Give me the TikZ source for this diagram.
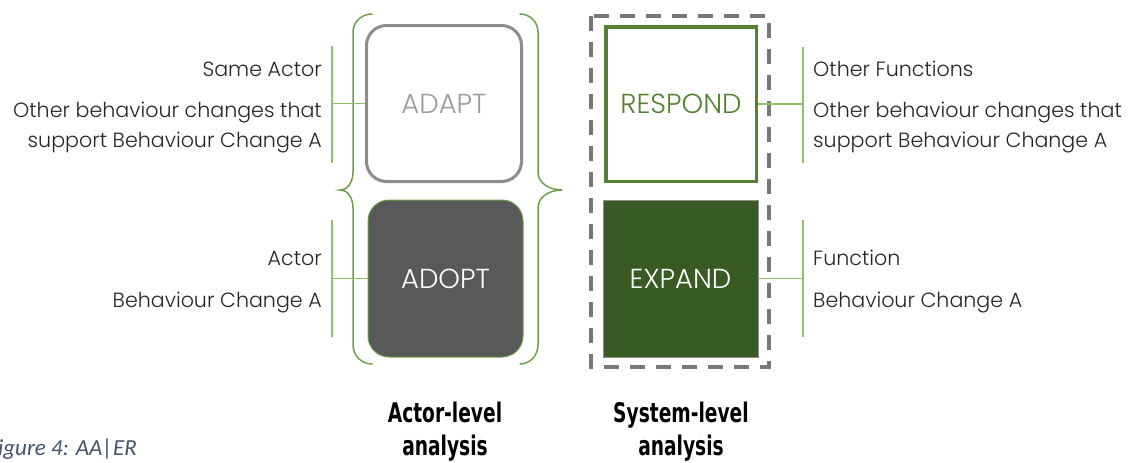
\documentclass[tikz,border=0pt]{standalone}
\usepackage{fontspec}
\IfFontExistsTF{Poppins Light}{\setmainfont{Poppins Light}}{\setmainfont{Poppins}}
\newfontfamily\headfont{DejaVu Sans}[FakeStretch=0.69]
\newfontfamily\capfont{Carlito}
\definecolor{txt}{HTML}{262626}
\definecolor{linkgreen}{HTML}{8DC26A}
\definecolor{bracegreen}{HTML}{6E9F48}
\definecolor{respgreen}{HTML}{548235}
\definecolor{expfill}{HTML}{3A5A24}
\definecolor{adoptfill}{HTML}{595959}
\definecolor{adaptgray}{HTML}{8C8C8C}
\definecolor{adapttext}{HTML}{9C9C9C}
\definecolor{dashgray}{HTML}{7A7777}
\definecolor{capblue}{HTML}{44546A}
\tikzset{
  stage/.style={rectangle, inner sep=0pt, font=\fontsize{27.5}{30}\selectfont},
  lbl/.style={inner sep=0pt, text=txt, font=\fontsize{20.6}{24}\selectfont},
  link/.style={draw=linkgreen, line width=1.4pt},
  bracket/.style={draw=bracegreen, line width=1.5pt, line cap=round},
  head/.style={inner sep=0pt, font=\headfont\bfseries\fontsize{27}{30}\selectfont},
}
\begin{document}
\begin{tikzpicture}[x=1pt, y=-1pt]
\useasboundingbox (0,0) rectangle (1130,463);

% system-level frame
\draw[draw=dashgray, line width=4pt, dash pattern=on 15pt off 11pt]
  (591,16) rectangle (769,367);

% the four stages
\node[stage, draw=adaptgray, line width=3pt, rounded corners=20pt,
      minimum width=155pt, minimum height=156pt, text=adapttext]
  (adapt) at (444,103.5) {ADAPT};
\node[stage, draw=bracegreen, line width=1pt, fill=adoptfill, rounded corners=21pt,
      minimum width=155pt, minimum height=157pt, text=white]
  (adopt) at (445.5,278.5) {ADOPT};
\node[stage, draw=respgreen, line width=3.5pt,
      minimum width=150.5pt, minimum height=154.5pt, text=respgreen]
  (respond) at (681,104) {RESPOND};
\node[stage, draw=adaptgray, line width=1pt, fill=expfill,
      minimum width=155pt, minimum height=157pt, text=white]
  (expand) at (680.5,278.5) {EXPAND};

% actor-level braces
\draw[bracket] (372,14) to[out=180, in=90] (353,32) -- (353,172)
  to[out=-90, in=0] (340,190) to[out=0, in=90] (353,208) -- (353,345)
  to[out=-90, in=180] (372,364);
\draw[bracket] (520,14) to[out=0, in=90] (538,32) -- (538,172)
  to[out=-90, in=180] (562,190) to[out=180, in=90] (538,208) -- (538,345)
  to[out=-90, in=0] (520,364);

% side brackets and their links
\coordinate (la1) at (332,46);  \coordinate (la2) at (332,163);  \coordinate (ja) at (332,103.5);
\coordinate (lo1) at (332,220); \coordinate (lo2) at (332,337);  \coordinate (jo) at (332,278.5);
\coordinate (rr1) at (803,47);  \coordinate (rr2) at (803,163);  \coordinate (jr) at (803,104);
\coordinate (re1) at (803,220); \coordinate (re2) at (803,337);  \coordinate (je) at (803,278.5);
\draw[link] (la1) -- (la2);  \draw[link] (adapt) -- (ja);
\draw[link] (lo1) -- (lo2);  \draw[link] (adopt) -- (jo);
\draw[link] (rr1) -- (rr2);  \draw[link] (respond) -- (jr);
\draw[link] (re1) -- (re2);  \draw[link] (expand) -- (je);

% left labels
\node[lbl, anchor=base east] (sameactor) at (322,76) {Same Actor};
\node[lbl, anchor=base east] (otherl1) at (322,117) {Other behaviour changes that};
\node[lbl, anchor=base east] (otherl2) at (322,147) {support Behaviour Change A};
\node[lbl, anchor=base east] (actor) at (322,265) {Actor};
\node[lbl, anchor=base east] (bcal) at (322,307) {Behaviour Change A};

% right labels
\node[lbl, anchor=base west] (otherfn) at (813,76) {Other Functions};
\node[lbl, anchor=base west] (otherr1) at (813,117) {Other behaviour changes that};
\node[lbl, anchor=base west] (otherr2) at (813,147) {support Behaviour Change A};
\node[lbl, anchor=base west] (function) at (813,265) {Function};
\node[lbl, anchor=base west] (bcar) at (813,307) {Behaviour Change A};

% column headings
\node[head, anchor=base] (actorlvl) at (445,422) {Actor-level};
\node[head, anchor=base] (actoran) at (445,455) {analysis};
\node[head, anchor=base] (syslvl) at (681,422) {System-level};
\node[head, anchor=base] (sysan) at (681,455) {analysis};

% caption
\node[inner sep=0pt, anchor=base east, text=capblue, font=\capfont\itshape\fontsize{23}{27}\selectfont]
  (caption) at (137,455) {Figure 4: AA|ER};
\end{tikzpicture}
\end{document}
